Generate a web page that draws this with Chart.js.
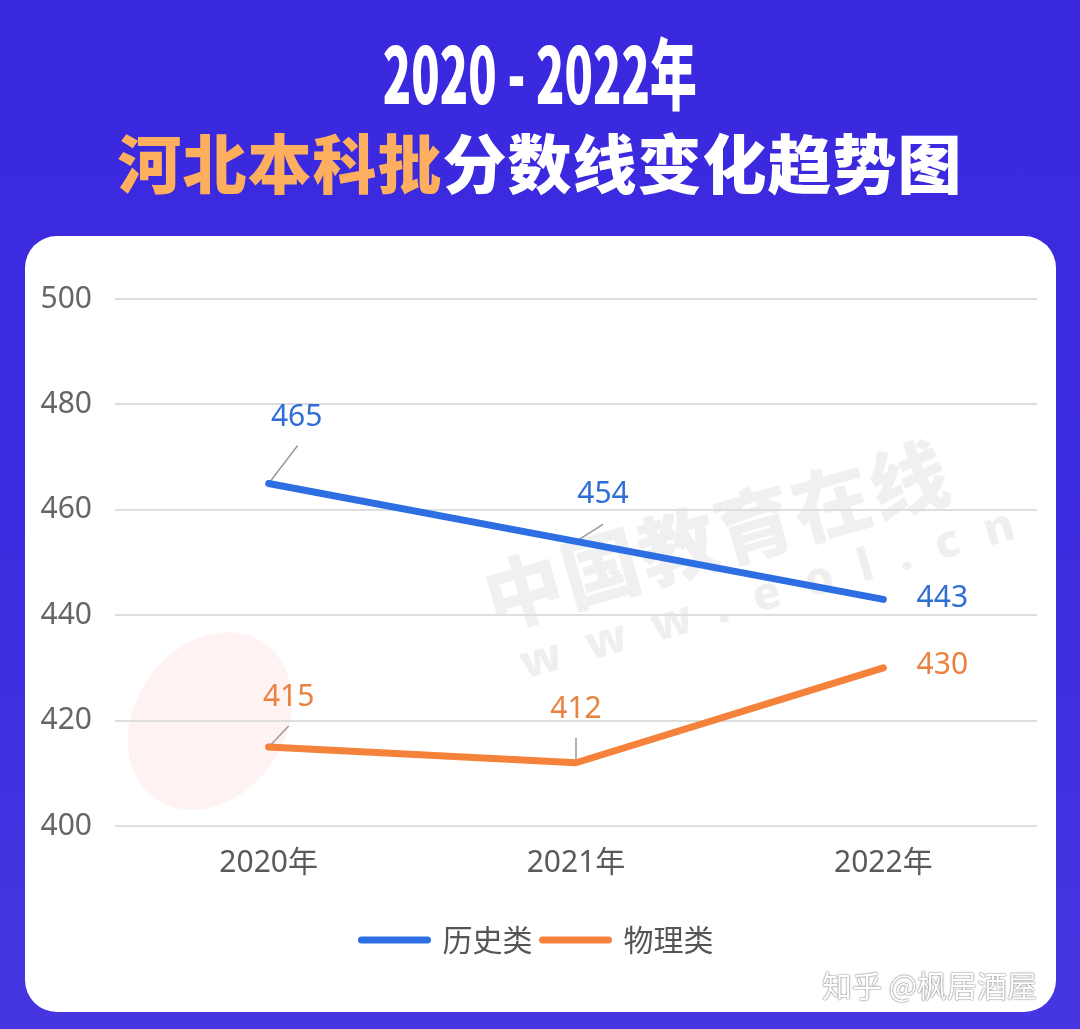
<!DOCTYPE html>
<html>
<head>
<meta charset="utf-8">
<script src="https://cdn.jsdelivr.net/npm/chart.js@4.4.0/dist/chart.umd.min.js"></script>
<style>
  html, body { margin: 0; padding: 0; }
  body {
    width: 1080px; height: 1029px; position: relative; overflow: hidden;
    background: linear-gradient(180deg, #3a28de 0%, #3d2ddf 60%, #4636e1 100%);
    font-family: "Noto Sans CJK SC", sans-serif;
  }
  .title1 {
    position: absolute; left: 0; top: 22px; width: 1080px; text-align: center;
    color: #fff; font-weight: 900; font-size: 78px; line-height: 96px;
  }
  .title1 span { display: inline-block; transform: scaleX(0.6); }
  .title2 {
    position: absolute; left: 0; top: 120px; width: 1080px; text-align: center;
    color: #fff; font-weight: 900; font-size: 64px; line-height: 80px; letter-spacing: 1px;
  }
  .title2 .hl { color: #fdae5e; }
  .card {
    position: absolute; left: 25px; top: 236px; width: 1031px; height: 776px;
    background: #fff; border-radius: 32px; overflow: hidden;
  }
  .wm {
    position: absolute; color: rgba(0, 0, 0, 0.06); font-weight: 900; white-space: nowrap;
    transform-origin: left center;
  }
  .wm.cn { left: 460px; top: 305px; font-size: 78px; transform: rotate(-16deg); letter-spacing: 2px; }
  .wm.url { left: 495px; top: 395px; font-size: 46px; transform: rotate(-16deg); letter-spacing: 26px; font-family: "Noto Sans", sans-serif; }
  .logo {
    position: absolute; left: 110px; top: 390px; width: 150px; height: 190px;
    border-radius: 50%; background: rgba(235, 70, 80, 0.07); transform: rotate(35deg);
  }
  .chart-box { position: absolute; left: 0; top: 0; width: 1031px; height: 776px; }
  .zhihu {
    position: absolute; left: 822px; top: 962px; font-size: 30px; color: #fff;
    text-shadow: 0 0 2px #777, 0 0 1px #777;
  }
</style>
</head>
<body>
<div class="title1"><span>2020 - 2022年</span></div>
<div class="title2"><span class="hl">河北本科批</span>分数线变化趋势图</div>
<div class="card">
  <div class="logo"></div>
  <div class="wm cn">中国教育在线</div>
  <div class="wm url">www.eol.cn</div>
  <div class="chart-box"><canvas id="chart"></canvas></div>
</div>
<div class="zhihu">知乎 @枫居酒屋</div>

<script>
const years = ["2020年", "2021年", "2022年"];
const seriesNames = ["历史类", "物理类"];
const historyScores = [465, 454, 443];
const physicsScores = [415, 412, 430];
const yMin = 400;
const yMax = 500;
const yStep = 20;

const lineColors = ["#2d6fe3", "#f5823a"];
const labelColors = ["#2f6fd3", "#e9823f"];

// label offsets per point: [dx, dy, leaderDx, leaderDy] (leader null = none)
const labelOffsets = [
  [[28, -66, 29, -38], [27, -47, 27, -17], [59, -1, null, null]],
  [[20, -49, 20, -21], [0, -53, 0, -25], [59, -2, null, null]],
];

const pointLabels = {
  id: "pointLabels",
  beforeDatasetsDraw(chart, args, opts) {
    const ctx = chart.ctx;
    ctx.save();
    ctx.strokeStyle = "#9a9a9a";
    ctx.lineWidth = 1.5;
    chart.data.datasets.forEach((ds, i) => {
      chart.getDatasetMeta(i).data.forEach((pt, j) => {
        const o = opts.offsets[i][j];
        if (o[2] === null) return;
        ctx.beginPath();
        ctx.moveTo(pt.x, pt.y);
        ctx.lineTo(pt.x + o[2], pt.y + o[3]);
        ctx.stroke();
      });
    });
    ctx.restore();
  },
  afterDatasetsDraw(chart, args, opts) {
    const ctx = chart.ctx;
    ctx.save();
    ctx.font = opts.font;
    ctx.textAlign = "center";
    ctx.textBaseline = "middle";
    chart.data.datasets.forEach((ds, i) => {
      ctx.fillStyle = opts.colors[i];
      chart.getDatasetMeta(i).data.forEach((pt, j) => {
        const o = opts.offsets[i][j];
        ctx.fillText(ds.data[j], pt.x + o[0], pt.y + o[1]);
      });
    });
    ctx.restore();
  },
};

const ctx = document.getElementById("chart").getContext("2d");
new Chart(ctx, {
  type: "line",
  data: {
    labels: years,
    datasets: [
      {
        label: seriesNames[0],
        data: historyScores,
        borderColor: lineColors[0],
        backgroundColor: lineColors[0],
        borderWidth: 7,
        borderCapStyle: "round",
        borderJoinStyle: "round",
        pointRadius: 0,
        tension: 0,
      },
      {
        label: seriesNames[1],
        data: physicsScores,
        borderColor: lineColors[1],
        backgroundColor: lineColors[1],
        borderWidth: 7,
        borderCapStyle: "round",
        borderJoinStyle: "round",
        pointRadius: 0,
        tension: 0,
      },
    ],
  },
  options: {
    responsive: true,
    maintainAspectRatio: false,
    animation: false,
    layout: { padding: { left: 13, right: 19, top: 63, bottom: 47 } },
    scales: {
      y: {
        min: yMin,
        max: yMax,
        ticks: {
          stepSize: yStep,
          padding: 23,
          color: "#666",
          font: { family: "Noto Sans", size: 30 },
        },
        grid: { color: "#dedede", lineWidth: 2, drawTicks: false },
        border: { display: false },
        afterFit(axis) { axis.width = 77; },
      },
      x: {
        offset: true,
        ticks: {
          padding: 11,
          color: "#5a5a5a",
          font: { family: "'Noto Sans', 'Noto Sans CJK SC'", size: 30 },
        },
        grid: { display: false },
        border: { display: false },
        afterFit(axis) { axis.height += 23; },
      },
    },
    plugins: {
      tooltip: { enabled: false },
      legend: {
        position: "bottom",
        labels: {
          usePointStyle: true,
          pointStyleWidth: 66,
          padding: 10,
          color: "#555",
          font: { family: "'Noto Sans CJK SC'", size: 30 },
          generateLabels(chart) {
            return chart.data.datasets.map((ds, i) => ({
              text: ds.label,
              strokeStyle: ds.borderColor,
              fillStyle: ds.borderColor,
              lineWidth: 7,
              lineCap: "round",
              pointStyle: "line",
              fontColor: "#555",
              datasetIndex: i,
            }));
          },
        },
      },
      pointLabels: {
        offsets: labelOffsets,
        colors: labelColors,
        font: "30px 'Noto Sans'",
      },
    },
  },
  plugins: [pointLabels],
});
</script>
</body>
</html>
